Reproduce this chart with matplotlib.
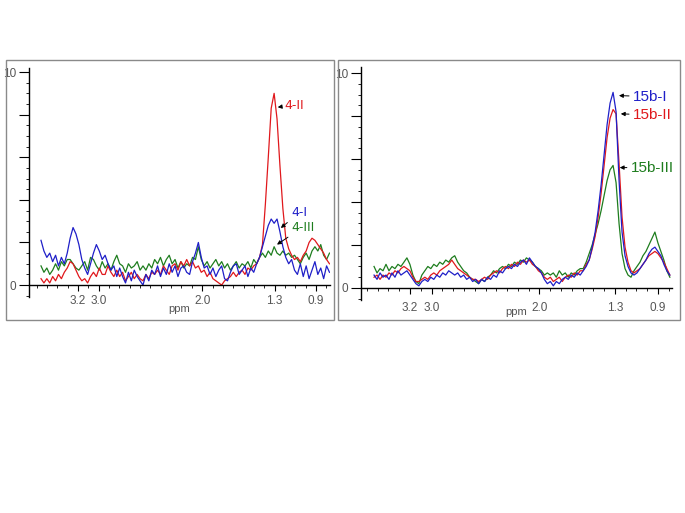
import numpy as np
import matplotlib
matplotlib.use('Agg')
import matplotlib.pyplot as plt
from matplotlib.patches import Rectangle
from matplotlib.ticker import FixedLocator, MultipleLocator, NullFormatter

plt.rcParams['font.family'] = ['Liberation Sans', 'DejaVu Sans']

# ── DATA ──────────────────────────────────────────────────
# left panel: compound 4, ppm from 3.56 down to 0.77
left_ppm_range = (3.557, 0.77)
spec_4_I = [2.1, 1.6, 1.3, 1.5, 1.1, 1.4, 0.9, 1.3, 1.0, 1.5,
            2.2, 2.7, 2.4, 1.9, 1.2, 0.8, 0.5, 1.0, 1.5, 1.9,
            1.6, 1.2, 1.4, 1.0, 0.7, 0.9, 0.4, 0.8, 0.4, 0.1,
            0.6, 0.2, 0.7, 0.4, 0.2, 0.0, 0.5, 0.2, 0.7, 0.5,
            0.9, 0.4, 0.8, 0.5, 1.0, 0.6, 0.9, 0.4, 0.8, 0.9,
            0.6, 0.5, 1.1, 1.5, 2.0, 1.3, 0.8, 0.9, 0.5, 0.8,
            0.4, 0.7, 0.9, 0.3, 0.2, 0.6, 0.9, 1.0, 0.5, 0.7,
            0.9, 0.4, 0.8, 0.6, 1.0, 1.3, 1.8, 2.3, 2.8, 3.1,
            2.9, 3.1, 2.5, 1.8, 1.3, 1.0, 1.2, 0.7, 0.5, 1.0,
            0.4, 0.9, 0.3, 0.7, 1.1, 0.5, 0.8, 0.3, 0.9, 0.6]
spec_4_II = [0.3, 0.1, 0.3, 0.1, 0.4, 0.2, 0.5, 0.3, 0.6, 0.8,
             1.1, 1.0, 0.7, 0.4, 0.2, 0.3, 0.1, 0.4, 0.6, 0.4,
             0.8, 0.5, 0.5, 0.9, 0.6, 0.4, 0.7, 0.4, 0.6, 0.2,
             0.4, 0.6, 0.3, 0.5, 0.3, 0.2, 0.5, 0.3, 0.6, 0.5,
             0.7, 0.5, 0.9, 0.7, 0.5, 0.9, 1.0, 0.7, 1.1, 0.9,
             1.2, 0.9, 1.1, 0.8, 0.9, 0.6, 0.7, 0.4, 0.6, 0.3,
             0.2, 0.1, 0.0, 0.2, 0.3, 0.4, 0.6, 0.4, 0.6, 0.7,
             0.5, 0.8, 0.7, 0.9, 1.0, 1.3, 1.9, 3.8, 6.0, 8.3,
             9.0, 7.8, 5.6, 3.6, 2.2, 1.7, 1.4, 1.2, 1.3, 1.1,
             1.4, 1.6, 2.0, 2.2, 2.1, 1.9, 1.7, 1.5, 1.2, 1.0]
spec_4_III = [0.9, 0.6, 0.8, 0.5, 0.7, 1.0, 0.7, 1.1, 0.9, 1.2,
              1.2, 1.0, 0.8, 0.7, 0.9, 1.1, 0.7, 1.3, 1.2, 0.9,
              0.7, 1.1, 0.8, 1.0, 0.7, 1.1, 1.4, 1.0, 0.9, 0.6,
              1.0, 0.8, 0.9, 1.1, 0.7, 0.9, 0.7, 1.0, 0.8, 1.2,
              1.0, 1.3, 0.9, 1.2, 1.4, 1.0, 1.2, 0.8, 1.1, 0.8,
              1.0, 0.9, 1.3, 1.2, 1.8, 1.2, 0.9, 1.1, 0.8, 1.0,
              1.2, 0.9, 1.1, 0.8, 1.0, 0.7, 0.9, 1.1, 0.8, 1.0,
              0.9, 1.1, 0.8, 1.2, 1.0, 1.3, 1.5, 1.3, 1.6, 1.4,
              1.8, 1.5, 1.4, 1.6, 1.4, 1.5, 1.3, 1.4, 1.2, 1.0,
              1.3, 1.5, 1.2, 1.6, 1.8, 1.6, 1.9, 1.4, 1.2, 1.5]

# right panel: compound 15b
right_ppm_range = (3.534, 0.79)
spec_15b_I = [0.6, 0.4, 0.7, 0.5, 0.6, 0.4, 0.7, 0.5, 0.8, 0.6,
              0.7, 0.8, 0.6, 0.4, 0.2, 0.1, 0.3, 0.4, 0.3, 0.5,
              0.4, 0.6, 0.5, 0.7, 0.6, 0.8, 0.7, 0.6, 0.7, 0.5,
              0.6, 0.4, 0.5, 0.3, 0.4, 0.2, 0.4, 0.3, 0.5, 0.4,
              0.6, 0.5, 0.8, 0.7, 0.9, 1.0, 0.9, 1.1, 1.0, 1.2,
              1.3, 1.1, 1.4, 1.2, 1.0, 0.9, 0.7, 0.4, 0.2, 0.3,
              0.1, 0.3, 0.2, 0.4, 0.5, 0.4, 0.6, 0.5, 0.7, 0.6,
              0.8, 1.0, 1.3, 1.9, 2.6, 3.6, 4.8, 6.2, 7.6, 8.6,
              9.1, 8.2, 5.0, 2.6, 1.5, 1.0, 0.7, 0.6, 0.7, 0.9,
              1.1, 1.3, 1.6, 1.8, 1.9, 1.7, 1.5, 1.1, 0.8, 0.6]
spec_15b_II = [0.5, 0.6, 0.4, 0.6, 0.5, 0.7, 0.6, 0.8, 0.7, 0.9,
               1.0, 0.9, 0.8, 0.5, 0.3, 0.3, 0.4, 0.5, 0.4, 0.6,
               0.7, 0.6, 0.8, 0.9, 1.0, 1.1, 1.3, 1.1, 0.9, 0.8,
               0.7, 0.6, 0.5, 0.4, 0.4, 0.3, 0.4, 0.5, 0.4, 0.6,
               0.7, 0.8, 0.7, 0.9, 1.0, 0.9, 1.1, 1.0, 1.2, 1.1,
               1.3, 1.2, 1.3, 1.1, 1.0, 0.8, 0.7, 0.5, 0.4, 0.5,
               0.3, 0.4, 0.5, 0.3, 0.5, 0.6, 0.5, 0.7, 0.6, 0.8,
               0.8, 1.1, 1.3, 1.8, 2.4, 3.3, 4.4, 5.7, 7.0, 7.9,
               8.3, 8.1, 5.8, 3.3, 1.9, 1.2, 0.8, 0.7, 0.8, 0.9,
               1.1, 1.3, 1.5, 1.6, 1.7, 1.6, 1.4, 1.2, 0.9, 0.6]
spec_15b_III = [1.0, 0.7, 0.9, 0.8, 1.1, 0.8, 1.0, 0.9, 1.1, 1.0,
                1.2, 1.4, 1.1, 0.6, 0.3, 0.2, 0.6, 0.8, 1.0, 0.9,
                1.1, 1.0, 1.2, 1.1, 1.3, 1.2, 1.4, 1.5, 1.2, 1.0,
                0.8, 0.7, 0.5, 0.4, 0.3, 0.2, 0.4, 0.3, 0.5, 0.6,
                0.8, 0.7, 0.9, 1.0, 0.9, 1.1, 1.0, 1.2, 1.1, 1.3,
                1.2, 1.4, 1.3, 1.2, 1.0, 0.9, 0.8, 0.6, 0.7, 0.6,
                0.7, 0.5, 0.8, 0.6, 0.7, 0.5, 0.7, 0.6, 0.8, 0.9,
                0.9, 1.2, 1.6, 2.0, 2.5, 3.0, 3.6, 4.3, 5.0, 5.5,
                5.7, 4.9, 3.0, 1.6, 0.9, 0.6, 0.5, 0.8, 1.0, 1.2,
                1.5, 1.7, 2.0, 2.3, 2.6, 2.1, 1.7, 1.3, 0.8, 0.5]

tick_ppm    = [3.2, 3.0, 2.0, 1.3, 0.9]
tick_labels = ['3.2', '3.0', '2.0', '1.3', '0.9']

BLUE, RED, GREEN = '#1f1fc8', '#e0181c', '#1e7d1e'
GREY = '#555555'

# ── FIGURE ─────────────────────────────────────────────────
fig = plt.figure(figsize=(6.85, 5.13), dpi=100)
fig.patch.set_facecolor('white')

# grey panel frames (pixel coords -> figure fraction)
W, H = 685, 513
for x0, x1 in [(6, 334), (338, 680)]:
    fig.patches.append(Rectangle((x0 / W, 1 - 320 / H), (x1 - x0) / W, 260 / H,
                                 transform=fig.transFigure, fill=False,
                                 edgecolor='#8a8a8a', linewidth=1.0))


def setup(ax, xlim, ylim, xpad, lpad):
    ax.set_xlim(*xlim)
    ax.set_ylim(*ylim)
    for s in ['top', 'right']:
        ax.spines[s].set_visible(False)
    ax.spines['bottom'].set_position(('data', 0))
    ax.spines['bottom'].set_linewidth(1.0)
    ax.spines['left'].set_linewidth(1.0)
    ax.xaxis.set_major_locator(FixedLocator(tick_ppm))
    ax.set_xticklabels(tick_labels)
    ax.xaxis.set_minor_locator(MultipleLocator(0.1))
    ax.yaxis.set_major_locator(FixedLocator([0, 2, 4, 6, 8, 10]))
    ax.set_yticklabels(['0', '', '', '', '', '10'])
    ax.yaxis.set_minor_locator(MultipleLocator(0.5))
    ax.yaxis.set_minor_formatter(NullFormatter())
    ax.tick_params(which='major', width=0.8, labelsize=8.5, labelcolor=GREY)
    ax.tick_params(axis='y', which='major', length=7, pad=2)
    ax.tick_params(axis='x', which='major', length=4, pad=xpad)
    ax.tick_params(which='minor', length=2.5, width=0.6)
    ax.set_xlabel('ppm', fontsize=8, color=GREY, labelpad=lpad)
    ax.patch.set_alpha(0)


LBL = dict(family=['DejaVu Sans'], fontsize=9, va='center', ha='left')
arrow = dict(arrowstyle='-|>', color='black', lw=0.7, mutation_scale=6,
             shrinkA=1, shrinkB=0)

# left panel
axL = fig.add_axes([29 / W, 1 - 297 / H, (330 - 29) / W, (297 - 68) / H])
ppmL = np.linspace(*left_ppm_range, len(spec_4_I))
axL.plot(ppmL, spec_4_III, color=GREEN, lw=0.9)
axL.plot(ppmL, spec_4_II, color=RED, lw=0.9)
axL.plot(ppmL, spec_4_I, color=BLUE, lw=0.9)
setup(axL, (3.673, 0.765), (-0.56, 10.19), xpad=3, lpad=-2)

axL.annotate('4-II', xy=(1.27, 8.35), xytext=(1.21, 8.45), color=RED,
             arrowprops=arrow, **LBL)
axL.annotate('4-I', xy=(1.24, 2.68), xytext=(1.14, 3.4), color=BLUE,
             arrowprops=arrow, **LBL)
axL.annotate('4-III', xy=(1.277, 1.9), xytext=(1.14, 2.72), color=GREEN,
             arrowprops=arrow, **LBL)

# right panel
axR = fig.add_axes([361 / W, 1 - 300 / H, (672 - 361) / W, (300 - 67) / H])
ppmR = np.linspace(*right_ppm_range, len(spec_15b_I))
axR.plot(ppmR, spec_15b_III, color=GREEN, lw=0.9)
axR.plot(ppmR, spec_15b_II, color=RED, lw=0.9)
axR.plot(ppmR, spec_15b_I, color=BLUE, lw=0.9)
setup(axR, (3.655, 0.77), (-0.56, 10.28), xpad=6, lpad=-5)

RLBL = dict(fontsize=11, va='center', ha='left')
axR.annotate('15b-I', xy=(1.262, 8.95), xytext=(1.13, 8.9), color=BLUE,
             arrowprops=arrow, **RLBL)
axR.annotate('15b-II', xy=(1.245, 8.1), xytext=(1.13, 8.05), color=RED,
             arrowprops=arrow, **RLBL)
axR.annotate('15b-III', xy=(1.255, 5.6), xytext=(1.15, 5.6), color=GREEN,
             arrowprops=arrow, **RLBL)

plt.savefig('out.png', dpi=100, facecolor='white')
